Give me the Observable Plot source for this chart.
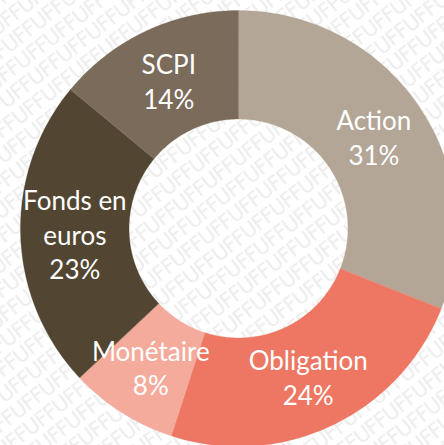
<!DOCTYPE html>
<html><head><meta charset="utf-8">
<script src="https://cdn.jsdelivr.net/npm/d3@7"></script>
<script src="https://cdn.jsdelivr.net/npm/@observablehq/plot@0.6"></script>
<style>
body{margin:0;background:#fff;}
#wrap{position:relative;width:444px;height:445px;overflow:hidden;}
#bg{position:absolute;left:0;top:0;}
#chart{position:absolute;left:0;top:0;}
</style>
</head><body><div id="wrap"><svg id="bg" width="444" height="445"></svg><div id="chart"></div></div>
<script>
const categories = ["Action", "Obligation", "Monétaire", "Fonds en euros", "SCPI"];
const labels = ["Action", "Obligation", "Monétaire", "Fonds en\neuros", "SCPI"];
const values = [31, 24, 8, 23, 14];
const colors = ["#b3a696", "#ed7763", "#f4ab9c", "#524632", "#7b6b5a"];

const inner = 0.502;
const pie = d3.pie().sort(null).value(d => d.value)(
  categories.map((c, i) => ({name: c, label: labels[i], value: values[i]}))
);
const pts = [];
const N = 90;
pie.forEach(s => {
  for (let k = 0; k <= N; k++) {
    const a = s.startAngle + (s.endAngle - s.startAngle) * k / N;
    pts.push({name: s.data.name, x: Math.sin(a), y: Math.cos(a)});
  }
  for (let k = N; k >= 0; k--) {
    const a = s.startAngle + (s.endAngle - s.startAngle) * k / N;
    pts.push({name: s.data.name, x: inner * Math.sin(a), y: inner * Math.cos(a)});
  }
});
const lab = pie.map(s => {
  const a = (s.startAngle + s.endAngle) / 2, r = (1 + inner) / 2;
  return {text: `${s.data.label}\n${s.data.value}%`, x: r * Math.sin(a), y: r * Math.cos(a)};
});

// faint background watermark
const bg = d3.select("#bg").append("g").attr("transform", "rotate(-38 222 222)");
for (let y = -420; y < 900; y += 21) {
  bg.append("text").attr("x", -500).attr("y", y)
    .attr("font-family", "DejaVu Sans").attr("font-size", 21).attr("letter-spacing", -1)
    .attr("fill", "#eeeeee").text("UFF".repeat(70));
}

const chart = Plot.plot({
  width: 444, height: 445,
  margin: 0,
  style: {background: "transparent"},
  x: {domain: [-1, 1], range: [20, 456], axis: null},
  y: {domain: [-1, 1], range: [446, 10], axis: null},
  color: {domain: categories, range: colors},
  marks: [
    Plot.line(pts, {x: "x", y: "y", z: "name", fill: "name", stroke: "name", strokeWidth: 0.3, curve: "linear-closed"}),
    Plot.text(lab, {x: "x", y: "y", text: "text", fill: "white", fontSize: 26, lineHeight: 1.33, fontFamily: "Lato"})
  ]
});
document.getElementById("chart").appendChild(chart);
</script>
</body></html>
